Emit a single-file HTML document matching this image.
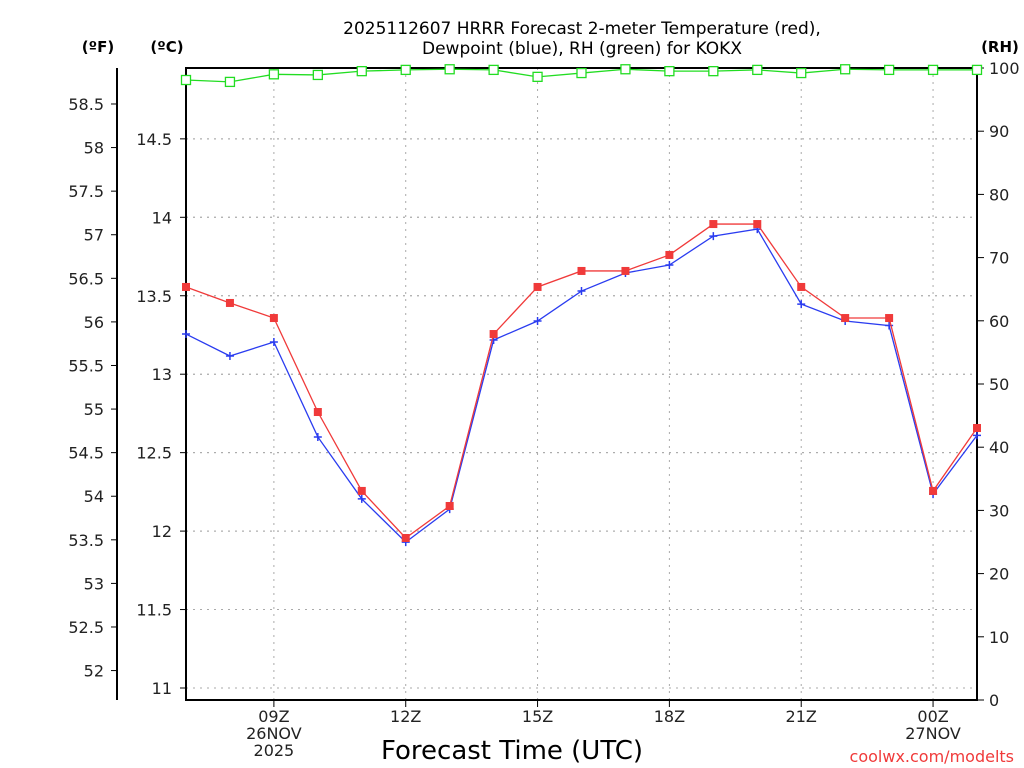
<!DOCTYPE html>
<html><head><meta charset="utf-8"><style>
body{margin:0;background:#fff;}
svg{display:block;font-family:"DejaVu Sans","Liberation Sans",sans-serif;}
</style></head><body>
<svg id="c" width="1024" height="768">
<text x="582" y="34" text-anchor="middle" font-size="17" fill="#000">2025112607 HRRR Forecast 2-meter Temperature (red),</text>
<text x="582" y="54" text-anchor="middle" font-size="17" fill="#000">Dewpoint (blue), RH (green) for KOKX</text>
<text x="98" y="52" text-anchor="middle" font-size="15" font-weight="bold">(ºF)</text>
<text x="167" y="52" text-anchor="middle" font-size="15" font-weight="bold">(ºC)</text>
<text x="1000" y="52" text-anchor="middle" font-size="15" font-weight="bold">(RH)</text>
<text x="512" y="759" text-anchor="middle" font-size="26">Forecast Time (UTC)</text>
<text x="1014" y="762" text-anchor="end" font-size="16" fill="#f03a3a">coolwx.com/modelts</text>
<g id="g"></g>
</svg>
<script>
const hours=['07','08','09','10','11','12','13','14','15','16','17','18','19','20','21','22','23','00','01'];
const tempC=[13.556,13.454,13.358,12.759,12.256,11.956,12.16,13.256,13.556,13.658,13.658,13.76,13.957,13.957,13.556,13.358,13.358,12.256,12.657];
const dewC=[13.256,13.116,13.205,12.6,12.205,11.93,12.14,13.218,13.339,13.53,13.645,13.696,13.88,13.925,13.447,13.339,13.31,12.236,12.61];
const rh=[98.1,97.8,99.0,98.9,99.5,99.7,99.8,99.7,98.6,99.2,99.8,99.5,99.5,99.7,99.2,99.8,99.7,99.7,99.7];
const cTicks=[11,11.5,12,12.5,13,13.5,14,14.5];
const fTicks=[52,52.5,53,53.5,54,54.5,55,55.5,56,56.5,57,57.5,58,58.5];
const rhTicks=[0,10,20,30,40,50,60,70,80,90,100];
const xLabels={'09':['09Z','26NOV','2025'],'12':['12Z'],'15':['15Z'],'18':['18Z'],'21':['21Z'],'00':['00Z','27NOV']};
const L=186,R=977,T=68,B=700;
const xs=i=>L+i*(R-L)/(hours.length-1);
const yC=c=>688-(c-11)*156.9;
const yF=f=>yC((f-32)/1.8);
const yR=r=>B-r*(B-T)/100;
const g=document.getElementById('g');const NS='http://www.w3.org/2000/svg';
function mk(t,a,p){const e=document.createElementNS(NS,t);for(const k in a)e.setAttribute(k,a[k]);(p||g).appendChild(e);return e;}
// grid
cTicks.forEach(c=>{if(c===11)return;const e=mk('line',{x1:L,x2:R,y1:yC(c),y2:yC(c),stroke:'#aaa','stroke-dasharray':'2,5'});

});
cTicks.forEach(c=>{const e=mk('line',{x1:L,x2:R,y1:yC(c),y2:yC(c),stroke:'#aaa','stroke-dasharray':'2,5'});


const t=mk('text',{x:172,y:yC(c)+6,'text-anchor':'end','font-size':16,fill:'#222'});t.textContent=c;


mk('line',{x1:180,x2:L,y1:yC(c),y2:yC(c),stroke:'#000'});});
fTicks.forEach(f=>{const t=mk('text',{x:104,y:yF(f)+6,'text-anchor':'end','font-size':16,fill:'#222'});t.textContent=f;


mk('line',{x1:111,x2:117,y1:yF(f),y2:yF(f),stroke:'#000'});});
rhTicks.forEach(r=>{const t=mk('text',{x:989,y:yR(r)+6,'font-size':16,fill:'#222'});t.textContent=r;


mk('line',{x1:R,x2:R+7,y1:yR(r),y2:yR(r),stroke:'#000'});});
hours.forEach((h,i)=>{if(!xLabels[h])return;const x=xs(i);
const e=mk('line',{x1:x,x2:x,y1:T,y2:B,stroke:'#aaa','stroke-dasharray':'2,5'});


mk('line',{x1:x,x2:x,y1:B,y2:B+7,stroke:'#000'});
xLabels[h].forEach((s,k)=>{const t=mk('text',{x:x,y:722+k*17,'text-anchor':'middle','font-size':16,fill:'#222'});t.textContent=s;

});});
// axes
mk('line',{x1:117,x2:117,y1:T,y2:B,stroke:'#000','stroke-width':2});
mk('rect',{x:L,y:T,width:R-L,height:B-T,fill:'none',stroke:'#000','stroke-width':2});
// series
function series(vals,fy,col,name,marker){
const pts=vals.map((v,i)=>xs(i)+','+fy(v)).join(' ');
const p=mk('polyline',{points:pts,fill:'none',stroke:col,'stroke-width':1.3});


vals.forEach((v,i)=>{const x=xs(i),y=fy(v);let m;
if(marker==='sq')m=mk('rect',{x:x-4,y:y-4,width:8,height:8,fill:col});
else if(marker==='open')m=mk('rect',{x:x-4.5,y:y-4.5,width:9,height:9,fill:'#fff',stroke:col,'stroke-width':1.3});
else m=mk('path',{d:`M${x-4},${y}H${x+4}M${x},${y-4}V${y+4}`,stroke:col,'stroke-width':1.5});

});}
series(rh,yR,'#22dd22','rh','open');
series(dewC,yC,'#2a3cf0','dewpoint','plus');
series(tempC,yC,'#f03a3a','temperature','sq');
</script>
</body></html>
